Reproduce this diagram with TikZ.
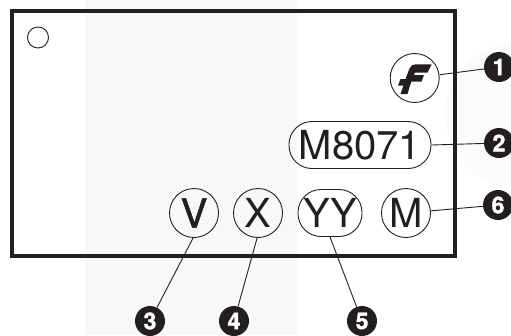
\documentclass[tikz,border=0pt]{standalone}
\usepackage{fontspec}
\setmainfont{TeX Gyre Heros}
\newfontfamily\heavyfont[FakeBold=1.3]{TeX Gyre Heros}
\newfontfamily\badgefont[FakeBold=1.5]{TeX Gyre Heros Bold}
\definecolor{bandcol}{HTML}{F8F8FB}
\definecolor{discol}{HTML}{FBFBFB}
\definecolor{inkcol}{HTML}{231F20}
\tikzset{
  callout/.style={circle,draw=inkcol,line width=0.9pt,minimum size=49pt,inner sep=0pt,text=inkcol,font=\fontsize{40}{40}\selectfont},
  pill/.style={rounded corners=23pt,draw=inkcol,line width=0.9pt,inner sep=0pt,minimum height=47pt,text=inkcol,font=\fontsize{40}{40}\selectfont},
  badge/.style={circle,fill=inkcol,minimum size=30pt,inner sep=0pt,text=white,font=\fontsize{23}{23}\selectfont\badgefont},
  leader/.style={draw=inkcol,line width=0.9pt},
}
\begin{document}
\begin{tikzpicture}[x=1pt,y=-1pt]
\useasboundingbox (0,0) rectangle (511,335);
\fill[white] (0,0) rectangle (511,335);
\fill[discol] (518,115) circle (73);
\fill[bandcol] (85,0) rectangle (297,335);
\draw[inkcol,line width=4pt] (12,11) rectangle (455,256);
\node[circle,draw=inkcol,line width=0.9pt,minimum size=21pt,inner sep=0pt] (dot) at (38,37.5) {};
\node[callout] (logo) at (414.7,78) {};
\fill[inkcol] (416,64.3) -- (431.7,64.3) -- (427.5,72.5) -- (415,72.5) -- (414,75) -- (424,75) -- (421.5,81.5) -- (411.5,81.5) -- (410,85.5) -- (407.5,94) -- (400.5,94) -- (403.5,85.5) -- (398,85.5) -- (400.5,79) -- (405.5,79) -- (409.5,68.5) .. controls (410.5,65.5) and (413,64.3) .. (416,64.3) -- cycle;
\node[pill,minimum width=142pt] (part) at (360,145) {M8071};
\node[callout] (v) at (194,213) {\heavyfont V};
\node[callout] (x) at (258,213) {X};
\node[pill,minimum width=64pt] (yy) at (330,213) {YY};
\node[callout] (m) at (406,213) {M};
\node[badge] (b1) at (499,67) {1};
\node[badge] (b2) at (499,143) {2};
\node[badge] (b3) at (150,321) {3};
\node[badge] (b4) at (234,321) {4};
\node[badge] (b5) at (362,321) {5};
\node[badge] (b6) at (498,205) {6};
\draw[leader] (logo) -- (b1);
\draw[leader] (part.east) -- (b2);
\draw[leader] (v.268) -- (b3);
\draw[leader] (x.268) -- (b4);
\draw[leader] (yy.south) -- (b5);
\draw[leader] (m) -- (b6);
\end{tikzpicture}
\end{document}
